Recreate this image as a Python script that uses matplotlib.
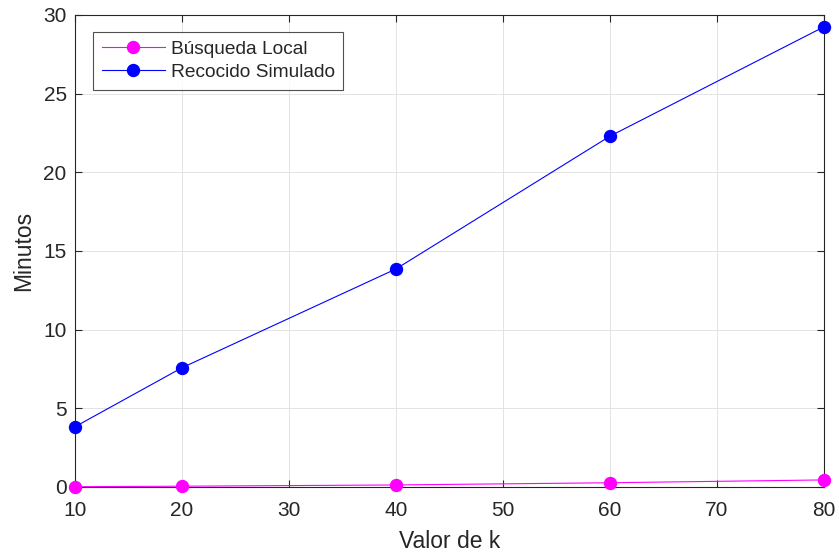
import matplotlib
matplotlib.use("Agg")
import matplotlib.pyplot as plt

k_values = [10, 20, 40, 60, 80]
busqueda_local = [0.02, 0.05, 0.13, 0.27, 0.45]
recocido_simulado = [3.83, 7.58, 13.86, 22.30, 29.25]
x_ticks = [10, 20, 30, 40, 50, 60, 70, 80]
y_ticks = [0, 5, 10, 15, 20, 25, 30]

plt.rcParams['font.family'] = ['Liberation Sans', 'DejaVu Sans']

fig = plt.figure(figsize=(8.39, 5.57), dpi=100)
ax = fig.add_axes([75/839, 70/557, 749/839, 472/557])

ax.plot(k_values, busqueda_local, '-o', color='#ff00ff', lw=0.8, ms=8.6,
        label='Búsqueda Local', clip_on=False, zorder=3)
ax.plot(k_values, recocido_simulado, '-o', color='#0000ff', lw=0.8, ms=8.6,
        label='Recocido Simulado', clip_on=False, zorder=3)

ax.set_xlim(10, 80)
ax.set_ylim(0, 30)
ax.set_xticks(x_ticks)
ax.set_yticks(y_ticks)
ax.grid(True, color='#e3e3e3', lw=0.7)
ax.set_axisbelow(True)
for s in ax.spines.values():
    s.set_color('#262626')
    s.set_linewidth(0.8)
ax.tick_params(direction='in', top=True, right=True, length=5, width=0.8,
               colors='#262626', labelsize=15)
ax.tick_params(axis='x', pad=10)
ax.tick_params(axis='y', pad=6)
ax.set_xlabel('Valor de k', fontsize=16.5, color='#262626', labelpad=7)
ax.set_ylabel('Minutos', fontsize=16.5, color='#262626', labelpad=6)

leg = ax.legend(loc='upper left', bbox_to_anchor=(18/749, 1 - 17/472),
                fontsize=13.8, frameon=True, fancybox=False, borderaxespad=0,
                handlelength=3.3, handletextpad=0.3, borderpad=0.45,
                labelspacing=0.3)
leg.get_frame().set_edgecolor('#262626')
leg.get_frame().set_linewidth(0.8)
for t in leg.get_texts():
    t.set_color('#262626')

fig.savefig('out.png', dpi=100)
